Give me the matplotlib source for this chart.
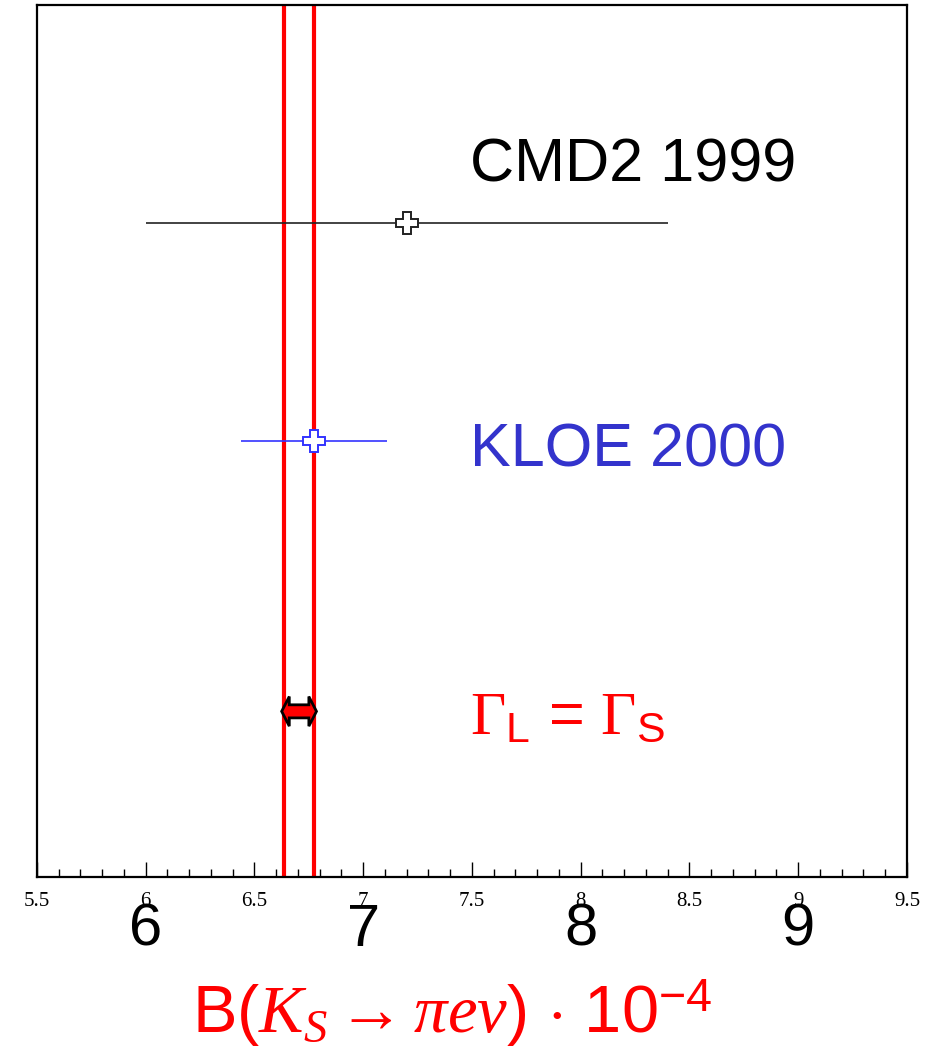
import matplotlib as mpl
mpl.use('Agg')
import matplotlib.pyplot as plt
from matplotlib.patches import Polygon
from matplotlib.ticker import MultipleLocator
import numpy as np

# measurements: value, error, row, label, colour
names = ['CMD2 1999', 'KLOE 2000']
values = [7.20, 6.775]
errors = [1.20, 0.335]
rows = [3.0, 2.0]
colors = ['#222222', '#3333ff']
text_colors = ['black', '#3333cc']

# Gamma_L = Gamma_S band
band = [6.635, 6.775]
band_row = 0.76

tick_vals = [5.5, 6, 6.5, 7, 7.5, 8, 8.5, 9, 9.5]
tick_labels = ['5.5', '6', '6.5', '7', '7.5', '8', '8.5', '9', '9.5']
big_ticks = [6, 7, 8, 9]

mpl.rcParams['mathtext.fontset'] = 'custom'
mpl.rcParams['mathtext.rm'] = 'Liberation Serif'
mpl.rcParams['mathtext.it'] = 'Liberation Serif:italic'
mpl.rcParams['mathtext.sf'] = 'Liberation Sans'

fig = plt.figure(figsize=(9.27, 10.52), dpi=100)
ax = fig.add_axes([0.0399, 0.1663, 0.9385, 0.829])
ax.set_xlim(5.5, 9.5)
ax.set_ylim(0, 4)

for s in ax.spines.values():
    s.set_linewidth(1.6)

ax.set_xticks(tick_vals)
ax.set_xticklabels(tick_labels, fontfamily='Liberation Serif', fontsize=15)
ax.xaxis.set_minor_locator(MultipleLocator(0.1))
ax.tick_params(axis='x', which='major', direction='in', length=11, width=1, pad=11)
ax.tick_params(axis='x', which='minor', direction='in', length=5.5, width=1)
ax.set_yticks([])

# band lines
for b in band:
    ax.axvline(b, color='#ff0000', lw=3, zorder=2)

# error bars with open crosses
for v, e, r, c in zip(values, errors, rows, colors):
    ax.errorbar(v, r, xerr=e, fmt='none', ecolor=c, elinewidth=1.2, capsize=0, zorder=3)
    ax.plot(v, r, marker='P', ms=16, mfc='white', mec=c, mew=1.4, ls='none', zorder=4)

text_rows = [3.26, 1.955]
for name, tc, r in zip(names, text_colors, text_rows):
    ax.text(7.49, r, name, color=tc, fontsize=44,
            fontfamily='Liberation Sans', va='center', ha='left')

# double arrow between the band lines
x0, x1 = band[0] - 0.01, band[1] + 0.01
hl = 0.035
bh = 0.03
hh = 0.068
y = band_row
verts = [(x0, y), (x0 + hl, y + hh), (x0 + hl, y + bh), (x1 - hl, y + bh),
         (x1 - hl, y + hh), (x1, y), (x1 - hl, y - hh), (x1 - hl, y - bh),
         (x0 + hl, y - bh), (x0 + hl, y - hh)]
ax.add_patch(Polygon(verts, closed=True, fc='#ff0000', ec='black', lw=2, zorder=5))

ax.text(7.49, band_row - 0.03, r'$\Gamma_{\mathsf{L}}$ = $\Gamma_{\mathsf{S}}$', color='#ff0000',
        fontsize=44, fontfamily='Liberation Sans', va='center', ha='left')

for t in big_ticks:
    ax.text(t, -0.245, str(t), fontsize=43, fontfamily='Liberation Sans',
            ha='center', va='center', clip_on=False)

fig.text(0.488, 0.037, r'B($K_S\rightarrow\pi e\nu$) $\cdot$ 10$^{\mathsf{-4}}$',
         color='#ff0000', fontsize=48, fontfamily='Liberation Sans', ha='center', va='center')

fig.savefig('out.png', dpi=100)
